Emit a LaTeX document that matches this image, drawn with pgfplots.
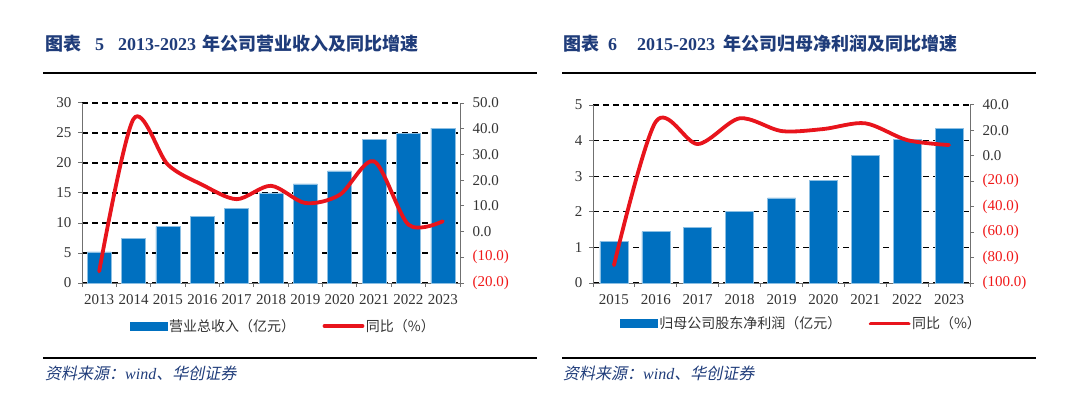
\documentclass[border=0pt]{standalone}
\usepackage{pgfplots}
\pgfplotsset{compat=1.18}
\usepackage{fontspec}
\setmainfont{Liberation Serif}
\newfontfamily\cjk{Noto Sans CJK SC}
\newfontfamily\cjkit{Noto Sans CJK SC}[FakeSlant=0.2]
\definecolor{barblue}{HTML}{0070C0}
\definecolor{linered}{HTML}{E8141C}
\definecolor{titleblue}{HTML}{1F3C7A}
\definecolor{axgray}{HTML}{707070}
\definecolor{negred}{HTML}{F01818}
\definecolor{txt}{HTML}{333333}
\pgfplotsset{
  common/.style={
    scale only axis, anchor=south west,
    /pgf/number format/assume math mode=true,
    tick align=outside, major tick length=4bp, minor tick length=4bp,
    axis line style={axgray, line width=1bp},
    tick style={axgray, line width=1bp},
    ticklabel style={font=\fontsize{15bp}{17bp}\selectfont, text=txt},
  },
  leftax/.style={
    common,
    axis x line*=bottom, axis y line*=left,
    ymajorgrids, grid style={black, dash pattern=on 6bp off 4bp, line width=1.1bp},
    major x tick style={draw=none},
    yticklabel style={xshift=-3bp},
    xticklabel style={yshift=-4bp},
  },
  rightax/.style={
    common,
    axis y line*=right, axis x line=none,
    yticklabel style={xshift=5bp},
  },
  leg/.style={
    legend style={draw=none, fill=none, legend columns=2, inner sep=0pt,
      font=\cjk\fontsize{14bp}{16bp}\selectfont,
      nodes={inner sep=1.5bp, text=txt},
      /tikz/every even column/.append style={column sep=26bp}},
    legend cell align=left,
  },
}
\begin{document}
\begin{tikzpicture}[x=1bp,y=1bp]
\useasboundingbox (0,0) rectangle (1080,396);
% ---------------- left chart
\begin{axis}[leftax, at={(82bp,113bp)}, width=378bp, height=180bp,
  xmin=-0.5, xmax=10.5, ymin=0, ymax=30, ytick={0,5,...,30},
  xtick={0,1,2,3,4,5,6,7,8,9,10},
  xticklabels={2013,2014,2015,2016,2017,2018,2019,2020,2021,2022,2023},
  minor xtick={-0.5,0.5,...,10.5}]
\addplot[ybar, bar width=24bp, fill=barblue, draw=barblue!45!white, line width=0.5bp] coordinates {
(0,5.2) (1,7.5) (2,9.4) (3,11.1) (4,12.5) (5,15.0) (6,16.5) (7,18.7) (8,23.9) (9,24.9) (10,25.8)};
\end{axis}
\begin{axis}[rightax, leg, at={(82bp,113bp)}, width=378bp, height=180bp,
  xmin=-0.5, xmax=10.5, ymin=-20, ymax=50, ytick={-20,-10,...,50},
  yticklabels={\textcolor{negred}{(20.0)},\textcolor{negred}{(10.0)},0.0,10.0,20.0,30.0,40.0,50.0},
  legend style={at={(0.127,-0.239)}, anchor=west}]
\addlegendimage{legend image code/.code={\fill[barblue] (0bp,-4bp) rectangle (37bp,4bp);}}
\addplot[linered, line width=3.8bp, smooth, line cap=round,
  legend image code/.code={\draw[linered, line width=3.8bp] (0bp,0bp) -- (38bp,0bp);}] coordinates {
(0,-15.5) (1,43.8) (2,26.0) (3,18.2) (4,12.6) (5,17.8) (6,11.1) (7,14.3) (8,27.3) (9,2.7) (10,4.0)};
\legend{营业总收入（亿元）, 同比（\%）}
\end{axis}
% ---------------- right chart
\begin{axis}[leftax, at={(593bp,113bp)}, width=377bp, height=178bp,
  xmin=-0.5, xmax=8.5, ymin=0, ymax=5, ytick={0,1,...,5},
  xtick={0,1,2,3,4,5,6,7,8},
  xticklabels={2015,2016,2017,2018,2019,2020,2021,2022,2023},
  minor xtick={-0.5,0.5,...,8.5}]
\addplot[ybar, bar width=28bp, fill=barblue, draw=barblue!45!white, line width=0.5bp] coordinates {
(0,1.17) (1,1.44) (2,1.56) (3,2.02) (4,2.39) (5,2.89) (6,3.58) (7,4.03) (8,4.34)};
\end{axis}
\begin{axis}[rightax, leg, at={(593bp,113bp)}, width=377bp, height=178bp,
  xmin=-0.5, xmax=8.5, ymin=-100, ymax=40, ytick={-100,-80,...,40},
  yticklabels={\textcolor{negred}{(100.0)},\textcolor{negred}{(80.0)},\textcolor{negred}{(60.0)},\textcolor{negred}{(40.0)},\textcolor{negred}{(20.0)},0.0,20.0,40.0},
  legend style={at={(0.072,-0.228)}, anchor=west}]
\addlegendimage{legend image code/.code={\fill[barblue] (0bp,-4bp) rectangle (37bp,4bp);}}
\addplot[linered, line width=3.8bp, smooth, line cap=round,
  legend image code/.code={\draw[linered, line width=3.8bp] (0bp,0bp) -- (38bp,0bp);}] coordinates {
(0,-86.0) (1,26.9) (2,9.3) (3,29.5) (4,19.5) (5,21.1) (6,25.6) (7,12.4) (8,8.5)};
\legend{归母公司股东净利润（亿元）, 同比（\%）}
\end{axis}
% ---------------- titles, rules, source
\begin{scope}[every node/.style={anchor=base west, inner sep=0pt, text=titleblue}]
\node at (45,346) {\cjk\bfseries\fontsize{18bp}{20bp}\selectfont 图表};
\node at (95,346) {\bfseries\fontsize{18bp}{20bp}\selectfont 5};
\node at (118,346) {\bfseries\fontsize{18bp}{20bp}\selectfont 2013-2023};
\node at (202,346) {\cjk\bfseries\fontsize{18bp}{20bp}\selectfont 年公司营业收入及同比增速};
\node at (563,346) {\cjk\bfseries\fontsize{18bp}{20bp}\selectfont 图表};
\node at (608,346) {\bfseries\fontsize{18bp}{20bp}\selectfont 6};
\node at (637,346) {\bfseries\fontsize{18bp}{20bp}\selectfont 2015-2023};
\node at (723,346) {\cjk\bfseries\fontsize{18bp}{20bp}\selectfont 年公司归母净利润及同比增速};
\node at (45,17) {\fontsize{16bp}{18bp}\selectfont\cjkit 资料来源：\itshape\rmfamily wind\cjkit 、华创证券};
\node at (563,17) {\fontsize{16bp}{18bp}\selectfont\cjkit 资料来源：\itshape\rmfamily wind\cjkit 、华创证券};
\end{scope}
\draw[black, line width=2bp] (43,323.3) -- (537,323.3);
\draw[black, line width=2bp] (562,323.3) -- (1036,323.3);
\draw[black, line width=2bp] (43,37.7) -- (537,37.7);
\draw[black, line width=2bp] (562,37.7) -- (1036,37.7);
\end{tikzpicture}
\end{document}
